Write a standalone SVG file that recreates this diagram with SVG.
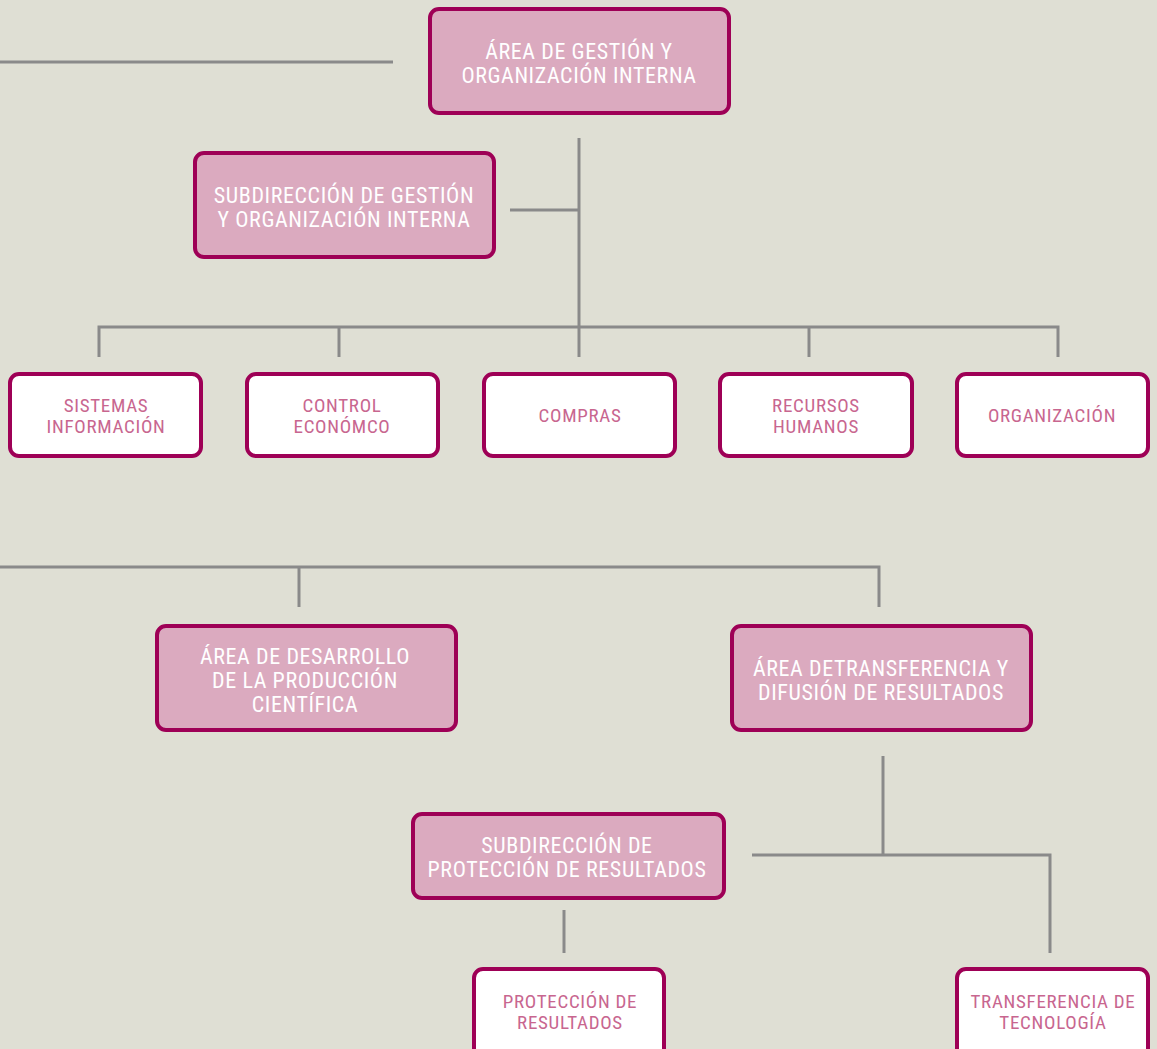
<svg xmlns="http://www.w3.org/2000/svg" width="1157" height="1049" viewBox="0 0 1157 1049">
<style>
.bg{fill:#dfdfd4}
.main rect{fill:#dbaabf;stroke:#9e0056;stroke-width:4}
.sub rect{fill:#ffffff;stroke:#9e0056;stroke-width:4}
text{font-family:"Liberation Sans Narrow","Roboto Condensed","DejaVu Sans Condensed","Liberation Sans",sans-serif;text-anchor:middle}
.main text{fill:#ffffff;font-size:22px;letter-spacing:0.6px}
.sub text{fill:#c8668f;font-size:19px;letter-spacing:0.7px}
.conn path{fill:none;stroke:#8a8a8a;stroke-width:3}
</style>
<rect class="bg" x="0" y="0" width="1157" height="1049"/>
<g class="conn">
<path d="M0 62H393"/>
<path d="M579 138V327"/>
<path d="M510 210H579"/>
<path d="M99 357V327H1058V357"/>
<path d="M339 327V357"/>
<path d="M579 327V357"/>
<path d="M809 327V357"/>
<path d="M0 567H879V607"/>
<path d="M299 567V607"/>
<path d="M883 756V855"/>
<path d="M752 855H1050V953"/>
<path d="M564 910V953"/>
</g>
<g id="area-gestion" class="main"><rect x="430" y="9" width="299" height="104" rx="9"/><text x="579" y="59">ÁREA DE GESTIÓN Y</text><text x="579" y="83">ORGANIZACIÓN INTERNA</text></g>
<g id="subdir-gestion" class="main"><rect x="195" y="153" width="299" height="104" rx="9"/><text x="344" y="203">SUBDIRECCIÓN DE GESTIÓN</text><text x="344" y="227">Y ORGANIZACIÓN INTERNA</text></g>
<g id="sistemas" class="sub"><rect x="10" y="374" width="191" height="82" rx="9"/><text x="106" y="412">SISTEMAS</text><text x="106" y="433">INFORMACIÓN</text></g>
<g id="control" class="sub"><rect x="247" y="374" width="191" height="82" rx="9"/><text x="342" y="412">CONTROL</text><text x="342" y="433">ECONÓMCO</text></g>
<g id="compras" class="sub"><rect x="484" y="374" width="191" height="82" rx="9"/><text x="580" y="422">COMPRAS</text></g>
<g id="rrhh" class="sub"><rect x="720" y="374" width="192" height="82" rx="9"/><text x="816" y="412">RECURSOS</text><text x="816" y="433">HUMANOS</text></g>
<g id="organizacion" class="sub"><rect x="957" y="374" width="191" height="82" rx="9"/><text x="1052" y="422">ORGANIZACIÓN</text></g>
<g id="area-desarrollo" class="main"><rect x="157" y="626" width="299" height="104" rx="9"/><text x="305" y="664">ÁREA DE DESARROLLO</text><text x="305" y="688">DE LA PRODUCCIÓN</text><text x="305" y="712">CIENTÍFICA</text></g>
<g id="area-transferencia" class="main"><rect x="732" y="626" width="299" height="104" rx="9"/><text x="881" y="676">ÁREA DETRANSFERENCIA Y</text><text x="881" y="700">DIFUSIÓN DE RESULTADOS</text></g>
<g id="subdir-proteccion" class="main"><rect x="413" y="814" width="311" height="84" rx="9"/><text x="567" y="853">SUBDIRECCIÓN DE</text><text x="567" y="877">PROTECCIÓN DE RESULTADOS</text></g>
<g id="proteccion" class="sub"><rect x="474" y="969" width="190" height="90" rx="9"/><text x="570" y="1008">PROTECCIÓN DE</text><text x="570" y="1029">RESULTADOS</text></g>
<g id="transferencia" class="sub"><rect x="957" y="969" width="191" height="90" rx="9"/><text x="1053" y="1008">TRANSFERENCIA DE</text><text x="1053" y="1029">TECNOLOGÍA</text></g>
</svg>
